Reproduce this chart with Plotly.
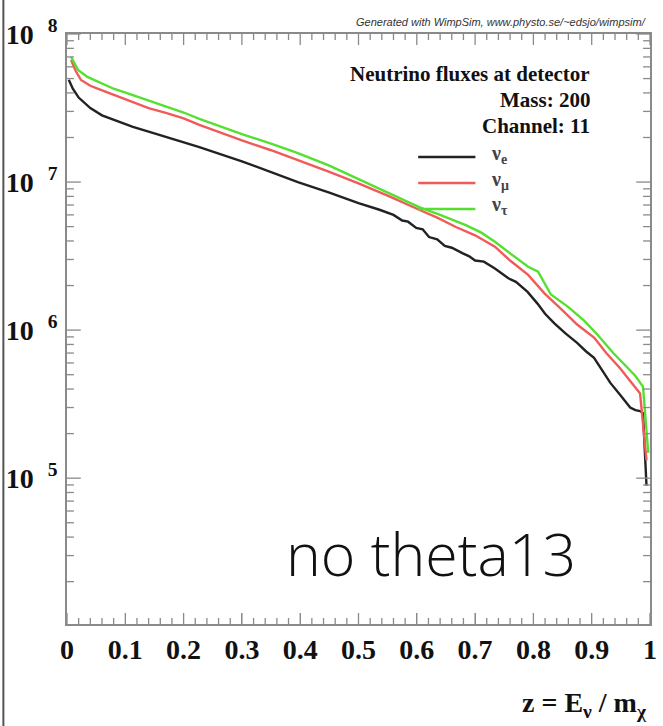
import plotly.graph_objects as go

# ---- data ----
z_e = [0.003, 0.01, 0.02, 0.04, 0.06, 0.08, 0.113, 0.14, 0.171, 0.2, 0.227, 0.3, 0.35, 0.396,
       0.45, 0.5, 0.536, 0.56, 0.575, 0.585, 0.599, 0.61, 0.621, 0.635, 0.648, 0.66, 0.679,
       0.69, 0.70, 0.715, 0.734, 0.757, 0.77, 0.79, 0.807, 0.82, 0.836, 0.855, 0.875,
       0.89, 0.904, 0.918, 0.932, 0.95, 0.966, 0.975, 0.983, 0.988, 0.994]
flux_e = [4.90e7, 4.27e7, 3.72e7, 3.16e7, 2.82e7, 2.63e7, 2.36e7, 2.19e7, 2.01e7, 1.86e7, 1.72e7,
          1.38e7, 1.17e7, 1.00e7, 8.5e6, 7.2e6, 6.5e6, 6.0e6, 5.5e6, 5.4e6, 4.9e6, 4.8e6, 4.25e6,
          4.1e6, 3.7e6, 3.6e6, 3.3e6, 3.15e6, 2.95e6, 2.9e6, 2.61e6, 2.24e6, 2.12e6, 1.81e6,
          1.51e6, 1.29e6, 1.11e6, 9.5e5, 8.2e5, 7.2e5, 6.5e5, 5.4e5, 4.4e5, 3.6e5, 3.0e5,
          2.88e5, 2.84e5, 2.75e5, 8.9e4]

z_mu = [0.007, 0.015, 0.024, 0.04, 0.058, 0.08, 0.113, 0.14, 0.171, 0.2, 0.227, 0.3, 0.35, 0.396,
        0.45, 0.5, 0.55, 0.604, 0.635, 0.667, 0.70, 0.734, 0.76, 0.791, 0.819, 0.85, 0.875,
        0.904, 0.925, 0.949, 0.97, 0.983, 0.994]
flux_mu = [6.67e7, 5.62e7, 4.89e7, 4.47e7, 4.19e7, 3.89e7, 3.48e7, 3.16e7, 2.92e7, 2.69e7, 2.43e7,
           1.91e7, 1.64e7, 1.41e7, 1.17e7, 9.8e6, 8.1e6, 6.5e6, 5.75e6, 4.97e6, 4.37e6, 3.66e6,
           2.95e6, 2.36e6, 1.77e6, 1.36e6, 1.09e6, 8.9e5, 7.0e5, 5.5e5, 4.37e5, 3.73e5, 1.32e5]

z_tau = [0.007, 0.019, 0.035, 0.058, 0.08, 0.113, 0.14, 0.171, 0.2, 0.227, 0.3, 0.35, 0.396,
         0.45, 0.5, 0.55, 0.604, 0.64, 0.684, 0.71, 0.734, 0.76, 0.791, 0.808, 0.830, 0.86,
         0.887, 0.91, 0.937, 0.959, 0.975, 0.988, 0.997]
flux_tau = [7.0e7, 5.71e7, 5.13e7, 4.67e7, 4.27e7, 3.87e7, 3.55e7, 3.21e7, 2.95e7, 2.67e7,
            2.11e7, 1.82e7, 1.57e7, 1.29e7, 1.05e7, 8.5e6, 6.78e6, 6.0e6, 5.12e6, 4.57e6,
            3.95e6, 3.3e6, 2.68e6, 2.48e6, 1.74e6, 1.43e6, 1.16e6, 9.3e5, 7.0e5, 5.7e5,
            4.9e5, 4.15e5, 1.48e5]

series_names = ["ν<sub>e</sub>", "ν<sub>μ</sub>", "ν<sub>τ</sub>"]
series_colors = ["#222222", "#f25a5a", "#55e030"]

x_ticks = [0, 0.1, 0.2, 0.3, 0.4, 0.5, 0.6, 0.7, 0.8, 0.9, 1]
x_minor = [i / 50 for i in range(51) if i % 5]
y_tickvals = [1e5, 1e6, 1e7, 1e8]
y_ticktext = ["10&nbsp;&nbsp;<sup>5</sup>", "10&nbsp;&nbsp;<sup>6</sup>",
              "10&nbsp;&nbsp;<sup>7</sup>", "10&nbsp;&nbsp;<sup>8</sup>"]
y_minor = [m * 10 ** d for d in (4, 5, 6, 7) for m in range(2, 10)]

X_RANGE = [0, 1]
Y_RANGE = [4.015, 8]

# ---- layout geometry ----
W, H = 663, 726
ML, MR, MT, MB = 66, 6, 34, 102
PW, PH = W - ML - MR, H - MT - MB


def px(x):
    return (x - ML) / PW


def py(y):
    return (H - MB - y) / PH


SERIF = "Liberation Serif, Times New Roman, serif"
TICKC = "#8a8a8a"

fig = go.Figure()
for zz, ff, col in zip([z_e, z_mu, z_tau], [flux_e, flux_mu, flux_tau], series_colors):
    fig.add_trace(go.Scatter(x=zz, y=ff, mode="lines",
                             line=dict(color=col, width=2.4), showlegend=False))

# tick marks drawn on the data axes (major and minor, all four sides)
tick_x, tick_y = [], []
ylo, yhi = 10 ** Y_RANGE[0], 10 ** Y_RANGE[1]
ydec = Y_RANGE[1] - Y_RANGE[0]
for v in x_ticks + x_minor:
    L = 11 if v in x_ticks else 6
    f = 10 ** (ydec * L / PH)
    tick_x += [v, v, None, v, v, None]
    tick_y += [ylo, ylo * f, None, yhi, yhi / f, None]
for v in y_tickvals + y_minor:
    L = 14 if v in y_tickvals else 7
    tick_x += [0, L / PW, None, 1, 1 - L / PW, None]
    tick_y += [v, v, None, v, v, None]
fig.add_trace(go.Scatter(x=tick_x, y=tick_y, mode="lines", line=dict(color=TICKC, width=1.3),
                         showlegend=False, hoverinfo="skip", cliponaxis=False,
                         connectgaps=False))

tickfont = dict(family=SERIF, size=28, color="#111", weight="bold")

fig.update_layout(
    xaxis=dict(range=X_RANGE, tickmode="array", tickvals=x_ticks,
               ticktext=[f"{v:g}" for v in x_ticks], ticks="inside", ticklen=11,
               tickcolor=TICKC, showline=True, linecolor=TICKC, linewidth=1.5,
               mirror=True, showgrid=False, zeroline=False, tickfont=tickfont),
    yaxis=dict(type="log", range=Y_RANGE, tickmode="array", tickvals=y_tickvals,
               ticktext=y_ticktext, ticks="", showline=True, linecolor=TICKC, linewidth=1.5,
               mirror=True, showgrid=False, zeroline=False, tickfont=tickfont,
               ticklabelstandoff=2),
)

annotations = [
    dict(text="Generated with WimpSim, www.physto.se/~edsjo/wimpsim/", x=px(655), y=py(22),
         xanchor="right", yanchor="middle",
         font=dict(family="Liberation Sans, Arial, sans-serif", size=11, color="#333",
                   style="italic")),
    dict(text="<b>Neutrino fluxes at detector</b>", x=px(598), y=py(74), xanchor="right",
         yanchor="middle", font=dict(family=SERIF, size=21, color="#111")),
    dict(text="<b>Mass: 200</b>", x=px(598), y=py(100), xanchor="right",
         yanchor="middle", font=dict(family=SERIF, size=21, color="#111")),
    dict(text="<b>Channel: 11</b>", x=px(598), y=py(126), xanchor="right",
         yanchor="middle", font=dict(family=SERIF, size=21, color="#111")),
    dict(text="<b>z = E<sub>ν</sub> / m<sub>χ</sub></b>", x=px(656), y=py(704),
         xanchor="right", yanchor="middle", font=dict(family=SERIF, size=28, color="#111")),
    dict(text="no theta13", x=px(286), y=py(553), xanchor="left", yanchor="middle",
         font=dict(family="Open Sans, DejaVu Sans, sans-serif", size=59, color="#111",
                   weight=300)),
]
shapes = []
leg_y = [157, 183, 209]
for name, col, ly in zip(series_names, series_colors, leg_y):
    shapes.append(dict(type="line", xref="paper", yref="paper", x0=px(422), x1=px(480),
                       y0=py(ly), y1=py(ly), line=dict(color=col, width=2.6)))
    annotations.append(dict(text=f"<b>{name}</b>", x=px(494), y=py(ly - 3), xanchor="left",
                            yanchor="middle",
                            font=dict(family=SERIF, size=20, color="#444")))
for a in annotations:
    a.update(xref="paper", yref="paper", showarrow=False)

# left border of the screenshot
shapes.append(dict(type="line", xref="paper", yref="paper", x0=px(1.5), x1=px(1.5),
                   y0=py(0), y1=py(H), line=dict(color="#555", width=2)))

fig.update_layout(width=W, height=H, margin=dict(l=ML, r=MR, t=MT, b=MB, pad=0),
                  paper_bgcolor="white", plot_bgcolor="white",
                  annotations=annotations, shapes=shapes)

fig.write_html("out.html")
